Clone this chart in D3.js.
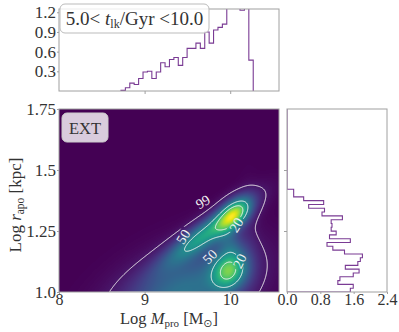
<!DOCTYPE html>
<html>
<head>
<meta charset="utf-8">
<script src="https://cdn.jsdelivr.net/npm/d3@7"></script>
<style>
  body { margin: 0; background: #fff; }
  svg, svg text { font-family: "Liberation Serif", "DejaVu Serif", serif; }
</style>
</head>
<body>
<script>
// ---- data ----

// top panel: histogram of Log M_pro (step outline)
var massStart = 8.724, massBin = 0.0515;
var massHist = [0.01, 0.05, 0.12, 0.10, 0.19, 0.29, 0.30, 0.19, 0.29, 0.43,
                0.37, 0.48, 0.51, 0.39, 0.51, 0.65, 0.65, 0.73, 0.65, 0.90,
                0.73, 0.93, 0.97, 1.02, 1.40, 1.50, 1.36, 1.23, 1.30, 0.47];

// right panel: histogram of Log r_apo, from 1.0 upwards
var rapoStart = 1.0, rapoBin = 0.0156;
var rapoHist = [1.52, 1.59, 1.22, 1.27, 1.59, 1.73, 1.40, 1.70, 1.76, 1.81,
                1.38, 1.10, 0.96, 1.52, 1.02, 1.18, 1.06, 1.08, 1.06, 1.33,
                0.84, 0.90, 0.52, 0.88, 0.40, 0.16, 0.16];

// main panel: density as a few smooth components (centre, widths, tilt, height)
var blobM   = [10.04, 9.72, 9.99, 9.45, 10.22, 10.00];
var blobR   = [1.315, 1.24, 1.09, 1.00, 1.22, 1.20];
var blobSm  = [0.13, 0.32, 0.14, 0.50, 0.08, 0.10];
var blobSr  = [0.048, 0.085, 0.055, 0.12, 0.14, 0.04];
var blobRho = [0.5, 0.87, 0.15, 0.45, 0.0, 0.0];
var blobAmp = [0.60, 0.48, 0.55, 0.35, 0.035, 0.14];

// contour levels (fraction of peak) and their labels
var levelFrac  = [0.06, 0.48, 0.70];
// where each label sits (data coords) and its angle
var labelM   = [9.68, 9.45, 9.76, 10.07, 10.11];
var labelR   = [1.37, 1.227, 1.145, 1.275, 1.127];
var labelTxt = ["99", "50", "50", "20", "20"];
var labelRot = [-30, -58, -45, -58, -65];

var massTicks = [8, 9, 10];
var rapoTicks = [1.0, 1.25, 1.5, 1.75];
var topTicks  = [0.3, 0.6, 0.9, 1.2];
var rightTicks = [0.0, 0.8, 1.6, 2.4];

// ---- layout ----
var W = 399, H = 332;
var main = {l: 59, r: 279, t: 109, b: 292};
var topP = {l: 59, r: 279, t: 9, b: 91};
var rgt  = {l: 287, r: 387, t: 109, b: 292};
var serif = '"Liberation Serif", "DejaVu Serif", serif';

var x = d3.scaleLinear().domain([8, 10.57]).range([main.l, main.r]);
var y = d3.scaleLinear().domain([1.0, 1.75]).range([main.b, main.t]);
var yTop = d3.scaleLinear().domain([0, 1.25]).range([topP.b, topP.t]);
var xR = d3.scaleLinear().domain([0, 2.4]).range([rgt.l, rgt.r]);

var histColor = "#7a3b94";
var spineColor = "#a0a0a0";

var svg = d3.select("body").append("svg")
    .attr("width", W).attr("height", H)
    .style("font-family", serif);
var defs = svg.append("defs");

function clip(id, p) {
  defs.append("clipPath").attr("id", id).append("rect")
    .attr("x", p.l).attr("y", p.t).attr("width", p.r - p.l).attr("height", p.b - p.t);
}
clip("cMain", main); clip("cTop", topP); clip("cRgt", rgt);

// ---- density image ----
function dens(m, r) {
  var s = 0;
  for (var k = 0; k < blobM.length; k++) {
    var a = (m - blobM[k]) / blobSm[k], b = (r - blobR[k]) / blobSr[k], p = blobRho[k];
    s += blobAmp[k] * Math.exp(-(a * a - 2 * p * a * b + b * b) / (2 * (1 - p * p)));
  }
  return s;
}
var nx = main.r - main.l, ny = main.b - main.t;
var gm0 = x.domain()[0], gm1 = x.domain()[1], gr0 = y.domain()[1], gr1 = y.domain()[0];
var dm = (gm1 - gm0) / nx, dr = (gr1 - gr0) / ny;
var grid = new Float64Array(nx * ny);
for (var j = 0; j < ny; j++) {
  for (var i = 0; i < nx; i++) {
    grid[j * nx + i] = dens(gm0 + (i + 0.5) * dm, gr0 + (j + 0.5) * dr);
  }
}
var vmax = d3.max(grid);
var color = d3.scaleSequential(d3.interpolateViridis).domain([0, vmax]);

var canvas = document.createElement("canvas");
canvas.width = nx; canvas.height = ny;
var ctx = canvas.getContext("2d");
var img = ctx.createImageData(nx, ny);
for (var q = 0; q < grid.length; q++) {
  var c = d3.rgb(color(grid[q]));
  img.data[q * 4] = c.r; img.data[q * 4 + 1] = c.g; img.data[q * 4 + 2] = c.b; img.data[q * 4 + 3] = 255;
}
ctx.putImageData(img, 0, 0);
svg.append("image")
  .attr("x", main.l).attr("y", main.t).attr("width", nx).attr("height", ny)
  .attr("preserveAspectRatio", "none")
  .attr("href", canvas.toDataURL());

// ---- contours ----
var contours = d3.contours().size([nx, ny])
  .thresholds(levelFrac.map(f => f * vmax))(Array.from(grid));
var toPix = d3.geoTransform({
  point: function (px, py) { this.stream.point(x(gm0 + px * dm), y(gr0 + py * dr)); }
});
var mask = defs.append("mask").attr("id", "lblMask");
mask.append("rect").attr("x", 0).attr("y", 0).attr("width", W).attr("height", H).attr("fill", "#fff");
labelTxt.forEach(function (t, k) {
  mask.append("rect")
    .attr("x", -9).attr("y", -6).attr("width", 18).attr("height", 12)
    .attr("transform", "translate(" + x(labelM[k]) + "," + y(labelR[k]) + ") rotate(" + labelRot[k] + ")")
    .attr("fill", "#000");
});
svg.append("g").attr("clip-path", "url(#cMain)").attr("mask", "url(#lblMask)")
  .selectAll("path").data(contours).join("path")
  .attr("d", d3.geoPath(toPix))
  .attr("fill", "none").attr("stroke", "#f2f2f2").attr("stroke-width", 1);

svg.append("g").selectAll("text").data(labelTxt).join("text")
  .attr("transform", (d, k) => "translate(" + x(labelM[k]) + "," + y(labelR[k]) + ") rotate(" + labelRot[k] + ")")
  .attr("text-anchor", "middle").attr("dy", "0.35em")
  .attr("font-size", 14).attr("fill", "#f2f2f2")
  .text(d => d);

// ---- histograms ----
var topPts = [[massStart, 0]];
massHist.forEach(function (v, k) {
  topPts.push([massStart + k * massBin, v], [massStart + (k + 1) * massBin, v]);
});
topPts.push([massStart + massHist.length * massBin, 0]);
svg.append("path").attr("clip-path", "url(#cTop)")
  .attr("d", d3.line().x(d => x(d[0])).y(d => yTop(d[1]))(topPts))
  .attr("fill", "none").attr("stroke", histColor).attr("stroke-width", 1.1);

var rPts = [[0, rapoStart]];
rapoHist.forEach(function (v, k) {
  rPts.push([v, rapoStart + k * rapoBin], [v, rapoStart + (k + 1) * rapoBin]);
});
rPts.push([0, rapoStart + rapoHist.length * rapoBin], [0, 1.75]);
svg.append("path").attr("clip-path", "url(#cRgt)")
  .attr("d", d3.line().x(d => xR(d[0])).y(d => y(d[1]))(rPts))
  .attr("fill", "none").attr("stroke", histColor).attr("stroke-width", 1.1);

// ---- axes ----
function styleAxis(size) {
  return function (g) {
    g.attr("font-family", null);
    g.select(".domain").remove();
    g.selectAll(".tick line").attr("stroke", spineColor);
    g.selectAll(".tick text").attr("fill", "#333")
      .style("font-family", serif).style("font-size", size + "px");
  };
}
svg.append("g").attr("transform", "translate(0," + main.b + ")")
  .call(d3.axisBottom(x).tickValues(massTicks).tickFormat(d3.format("d")).tickSize(2).tickPadding(0))
  .call(styleAxis(16));
svg.append("g").attr("transform", "translate(" + main.l + ",0)")
  .call(d3.axisLeft(y).tickValues(rapoTicks).tickFormat(d => d === 1 ? "1.0" : d === 1.5 ? "1.5" : d3.format(".2f")(d)).tickSize(2).tickPadding(1))
  .call(styleAxis(17));
svg.append("g").attr("transform", "translate(0," + topP.b + ")")
  .call(d3.axisBottom(x).tickValues([9, 10]).tickFormat("").tickSize(3))
  .call(styleAxis(16));
svg.append("g").attr("transform", "translate(" + topP.l + ",0)")
  .call(d3.axisLeft(yTop).tickValues(topTicks).tickFormat(d3.format(".1f")).tickSize(2).tickPadding(1))
  .call(styleAxis(17));
svg.append("g").attr("transform", "translate(0," + rgt.b + ")")
  .call(d3.axisBottom(xR).tickValues(rightTicks).tickFormat(d3.format(".1f")).tickSize(2).tickPadding(0))
  .call(styleAxis(16));
svg.append("g").attr("transform", "translate(" + rgt.l + ",0)")
  .call(d3.axisLeft(y).tickValues([1.25, 1.5]).tickFormat("").tickSize(3))
  .call(styleAxis(16));

[main, topP, rgt].forEach(function (p) {
  svg.append("rect").attr("x", p.l).attr("y", p.t)
    .attr("width", p.r - p.l).attr("height", p.b - p.t)
    .attr("fill", "none").attr("stroke", spineColor).attr("stroke-width", 1);
});

// ---- labels ----
var xl = svg.append("text").attr("x", 169).attr("y", 324)
  .attr("text-anchor", "middle").attr("font-size", 16.5).attr("fill", "#333");
xl.append("tspan").text("Log ");
xl.append("tspan").attr("font-style", "italic").text("M");
xl.append("tspan").attr("font-size", 11).attr("dy", 3).text("pro");
xl.append("tspan").attr("dy", -3).text(" [M");
xl.append("tspan").attr("font-size", 11).attr("dy", 3).style("font-family", "DejaVu Sans").text("\u2299");
xl.append("tspan").attr("dy", -3).text("]");

var yl = svg.append("text").attr("transform", "translate(21,205) rotate(-90)")
  .attr("text-anchor", "middle").attr("font-size", 17).attr("fill", "#333");
yl.append("tspan").text("Log ");
yl.append("tspan").attr("font-style", "italic").text("r");
yl.append("tspan").attr("font-size", 11.5).attr("dy", 3).text("apo");
yl.append("tspan").attr("dy", -3).text(" [kpc]");

// title box
svg.append("rect").attr("x", 60).attr("y", 4).attr("width", 149).attr("height", 29).attr("rx", 5)
  .attr("fill", "#fff").attr("fill-opacity", 0.8).attr("stroke", "#bbb");
var tt = svg.append("text").attr("x", 134.5).attr("y", 25)
  .attr("text-anchor", "middle").attr("font-size", 19).attr("fill", "#333");
tt.append("tspan").text("5.0< ");
tt.append("tspan").attr("font-style", "italic").text("t");
tt.append("tspan").attr("font-size", 12).attr("dy", 3).text("lk");
tt.append("tspan").attr("dy", -3).text("/Gyr <10.0");

// EXT box
svg.append("rect").attr("x", 62).attr("y", 113).attr("width", 46).attr("height", 29).attr("rx", 5)
  .attr("fill", "#fff").attr("fill-opacity", 0.8).attr("stroke", "#ccc");
svg.append("text").attr("x", 85).attr("y", 134).attr("text-anchor", "middle")
  .attr("font-size", 16.5).attr("fill", "#333").text("EXT");
</script>
</body>
</html>
